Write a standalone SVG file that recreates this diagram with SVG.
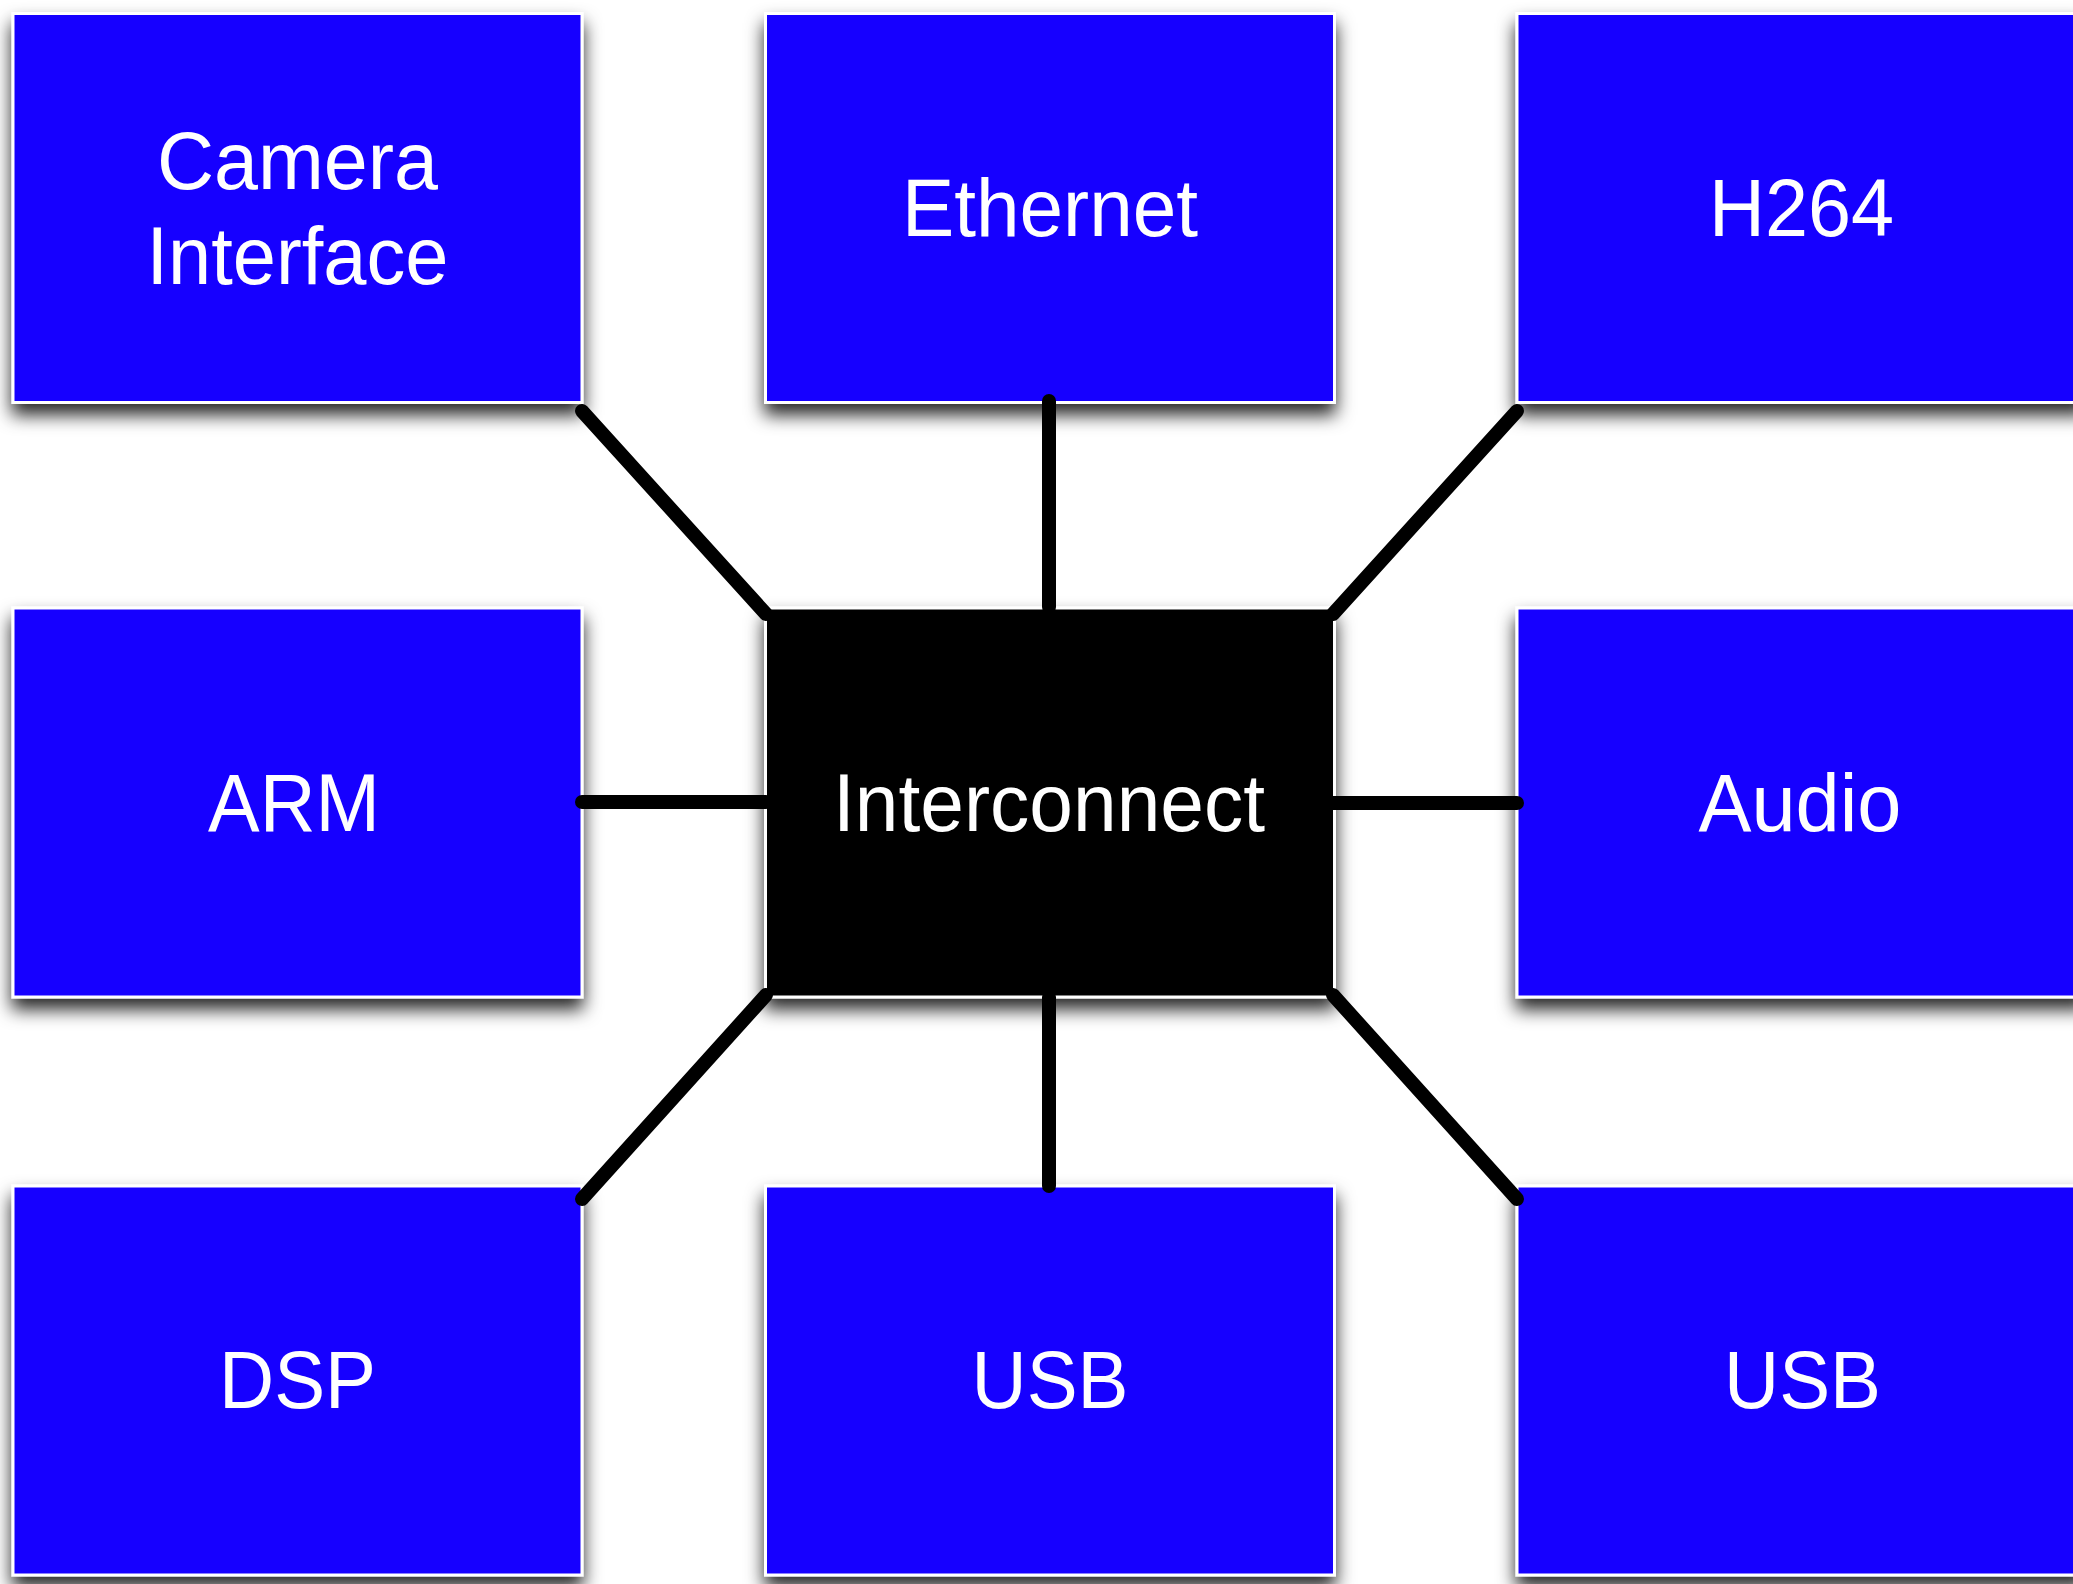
<svg xmlns="http://www.w3.org/2000/svg" width="2073" height="1584" viewBox="0 0 2073 1584">
  <defs>
    <filter id="shadow" x="-10%" y="-10%" width="120%" height="130%">
      <feDropShadow dx="0" dy="11" stdDeviation="9" flood-color="#000" flood-opacity="0.85"/>
    </filter>
  </defs>
  <style>
    .box { fill: #1900ff; stroke: #ffffff; stroke-width: 3; filter: url(#shadow); }
    .hub { fill: #000000; stroke: #ffffff; stroke-width: 3; filter: url(#shadow); }
    .lbl { font-family: "Liberation Sans", Arial, sans-serif; font-size: 81px; fill: #ffffff; text-anchor: middle; }
    .conn { stroke: #000000; stroke-width: 14; stroke-linecap: round; fill: none; }
  </style>
  <rect width="2073" height="1584" fill="#ffffff"/>

  <g id="camera-interface">
    <rect class="box" x="13" y="13.5" width="569" height="389"/>
    <text class="lbl" x="297.5" y="189" textLength="281" lengthAdjust="spacingAndGlyphs">Camera</text>
    <text class="lbl" x="297.5" y="284" textLength="302" lengthAdjust="spacingAndGlyphs">Interface</text>
  </g>
  <g id="ethernet">
    <rect class="box" x="765.5" y="13.5" width="569" height="389"/>
    <text class="lbl" x="1050" y="235.5" textLength="296" lengthAdjust="spacingAndGlyphs">Ethernet</text>
  </g>
  <g id="h264">
    <rect class="box" x="1517" y="13.5" width="569" height="389"/>
    <text class="lbl" x="1801.5" y="235.5" textLength="185" lengthAdjust="spacingAndGlyphs">H264</text>
  </g>
  <g id="arm">
    <rect class="box" x="13" y="608" width="569" height="389"/>
    <text class="lbl" x="294" y="830.5" textLength="172" lengthAdjust="spacingAndGlyphs">ARM</text>
  </g>
  <g id="interconnect">
    <rect class="hub" x="765.5" y="608" width="569" height="389"/>
    <text class="lbl" x="1049" y="830.5" textLength="432" lengthAdjust="spacingAndGlyphs">Interconnect</text>
  </g>
  <g id="audio">
    <rect class="box" x="1517" y="608" width="569" height="389"/>
    <text class="lbl" x="1800" y="830.5" textLength="203" lengthAdjust="spacingAndGlyphs">Audio</text>
  </g>
  <g id="dsp">
    <rect class="box" x="13" y="1186" width="569" height="389"/>
    <text class="lbl" x="297.5" y="1408" textLength="157" lengthAdjust="spacingAndGlyphs">DSP</text>
  </g>
  <g id="usb-1">
    <rect class="box" x="765.5" y="1186" width="569" height="389"/>
    <text class="lbl" x="1050" y="1408" textLength="157" lengthAdjust="spacingAndGlyphs">USB</text>
  </g>
  <g id="usb-2">
    <rect class="box" x="1517" y="1186" width="569" height="389"/>
    <text class="lbl" x="1802.5" y="1408" textLength="157" lengthAdjust="spacingAndGlyphs">USB</text>
  </g>

  <g id="connectors">
    <line class="conn" x1="582" y1="411" x2="766" y2="614"/>
    <line class="conn" x1="1049" y1="401" x2="1049" y2="607"/>
    <line class="conn" x1="1517" y1="411" x2="1333" y2="614"/>
    <line class="conn" x1="582" y1="802" x2="766" y2="802"/>
    <line class="conn" x1="1333" y1="803" x2="1517" y2="803"/>
    <line class="conn" x1="766" y1="995" x2="582" y2="1199"/>
    <line class="conn" x1="1049" y1="997" x2="1049" y2="1186"/>
    <line class="conn" x1="1333" y1="995" x2="1517" y2="1199"/>
  </g>
</svg>
